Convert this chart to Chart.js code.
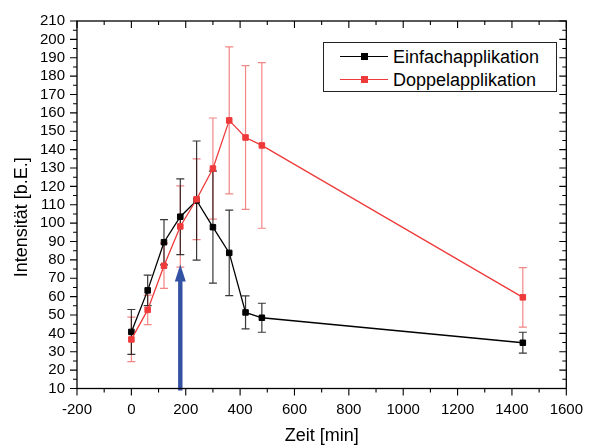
<!DOCTYPE html>
<html>
<head>
<meta charset="utf-8">
<script src="https://cdn.jsdelivr.net/npm/chart.js@4"></script>
<style>
  html, body { margin: 0; padding: 0; background: #fff; }
  #wrap { position: relative; width: 595px; height: 447px; }
  #legend {
    position: absolute; left: 323px; top: 42px; width: 232px; height: 48px;
    border: 1px solid #222; background: #fff;
    font-family: "Liberation Sans", Arial, sans-serif; font-size: 18px; color: #000;
  }
  .row { position: absolute; left: 0; height: 22px; line-height: 22px; width: 100%; }
  .sample { position: absolute; left: 16px; top: 10px; width: 48px; height: 1.4px; }
  .mark { position: absolute; left: 21px; top: -3px; width: 7px; height: 7px; }
  .label { position: absolute; left: 69px; top: 0; white-space: nowrap; }
</style>
</head>
<body>
<div id="wrap">
  <canvas id="chart" width="595" height="447"></canvas>
  <div id="legend"></div>
</div>
<script>
"use strict";

// time points [min]
const TIMES = [0, 60, 120, 180, 240, 300, 360, 420, 480, 1440];

// Einfachapplikation: mean and error
const EINFACH     = [40.8, 63.4, 89.6, 103.5, 112.3, 97.8, 83.8, 51.4, 48.5, 34.9];
const EINFACH_ERR = [12.2,  8.3, 12.3,  20.6,  32.4, 30.5, 23.3,  9.0,  7.9,  5.7];

// Doppelapplikation: mean and error
const DOPPEL     = [36.7, 52.8, 76.8, 98.2, 113.0, 129.7, 155.9, 146.6, 142.3, 59.6];
const DOPPEL_ERR = [12.1,  8.0, 12.3, 22.1,  22.0,  27.5,  40.0,  39.1,  45.1, 16.2];

const SERIES_NAMES = ["Einfachapplikation", "Doppelapplikation"];

// axes
const X_MIN = -200, X_MAX = 1600, X_STEP = 200;
const Y_MIN = 10,   Y_MAX = 210,  Y_STEP = 10;

// application marker arrow (x, from, to)
const ARROW_X = 180, ARROW_FROM = 10, ARROW_TO = 77.5;

const COLORS = {
  black:    "#000000",
  blackErr: "rgba(0, 0, 0, 0.78)",
  red:      "#ee3a3a",
  redErr:   "rgba(236, 60, 60, 0.62)",
  arrow:    "#3452a4",
};

Chart.defaults.font.family = '"Liberation Sans", Arial, sans-serif';
Chart.defaults.color = "#000";

function points(values) {
  return TIMES.map((t, i) => ({ x: t, y: values[i] }));
}

function ds(label, values, errors, color, errColor, order) {
  return {
    label, data: points(values), errors, errColor, order,
    borderColor: color, backgroundColor: color,
    borderWidth: 1.3, tension: 0,
    pointStyle: "rect", pointRadius: 3.9, pointBorderWidth: 1,
    pointBorderColor: color, pointBackgroundColor: color,
  };
}

const errorBars = {
  id: "errorBars",
  beforeDatasetsDraw(chart) {
    const { ctx, scales: { x, y } } = chart;
    ctx.save();
    chart.data.datasets.slice().reverse().forEach(d => {
      ctx.strokeStyle = d.errColor;
      ctx.lineWidth = 1.2;
      d.data.forEach((p, i) => {
        const px = x.getPixelForValue(p.x);
        const top = y.getPixelForValue(p.y + d.errors[i]);
        const bot = y.getPixelForValue(p.y - d.errors[i]);
        ctx.beginPath();
        ctx.moveTo(px, top); ctx.lineTo(px, bot);
        ctx.moveTo(px - 4, top); ctx.lineTo(px + 4, top);
        ctx.moveTo(px - 4, bot); ctx.lineTo(px + 4, bot);
        ctx.stroke();
      });
    });
    ctx.restore();
  },
};

const frame = {
  id: "frame",
  afterDatasetsDraw(chart) {
    const { ctx, chartArea: a, scales: { x, y } } = chart;
    ctx.save();

    // arrow
    const ax = x.getPixelForValue(ARROW_X);
    const ay0 = y.getPixelForValue(ARROW_FROM) + 2;
    const ay1 = y.getPixelForValue(ARROW_TO);
    ctx.fillStyle = COLORS.arrow;
    ctx.fillRect(ax - 2.2, ay1 + 14, 4.4, ay0 - ay1 - 14);
    ctx.beginPath();
    ctx.moveTo(ax, ay1);
    ctx.lineTo(ax - 5.5, ay1 + 17);
    ctx.lineTo(ax + 5.5, ay1 + 17);
    ctx.closePath();
    ctx.fill();

    // box
    ctx.strokeStyle = "#000";
    ctx.lineWidth = 1.3;
    ctx.strokeRect(a.left, a.top, a.right - a.left, a.bottom - a.top);

    // ticks: out on left/bottom, in on top/right
    ctx.lineWidth = 1.1;
    ctx.beginPath();
    for (let v = X_MIN; v <= X_MAX; v += X_STEP / 2) {
      const px = x.getPixelForValue(v);
      const len = (v - X_MIN) % X_STEP === 0 ? 7 : 4;
      ctx.moveTo(px, a.bottom); ctx.lineTo(px, a.bottom + len);
      ctx.moveTo(px, a.top);    ctx.lineTo(px, a.top + len);
    }
    for (let v = Y_MIN; v <= Y_MAX; v += Y_STEP / 2) {
      const py = y.getPixelForValue(v);
      const len = (v - Y_MIN) % Y_STEP === 0 ? 7 : 4;
      ctx.moveTo(a.left, py);  ctx.lineTo(a.left - len, py);
      ctx.moveTo(a.right, py); ctx.lineTo(a.right - len, py);
    }
    ctx.stroke();
    ctx.restore();
  },
};

const chart = new Chart(document.getElementById("chart"), {
  type: "line",
  data: {
    datasets: [
      ds(SERIES_NAMES[0], EINFACH, EINFACH_ERR, COLORS.black, COLORS.blackErr, 2),
      ds(SERIES_NAMES[1], DOPPEL,  DOPPEL_ERR,  COLORS.red,   COLORS.redErr,   1),
    ],
  },
  options: {
    responsive: false,
    animation: false,
    layout: { padding: { left: 0, top: 18, right: 18.5, bottom: 0 } },
    plugins: { legend: { display: false }, tooltip: { enabled: false } },
    scales: {
      x: {
        type: "linear", min: X_MIN, max: X_MAX,
        ticks: { stepSize: X_STEP, padding: 12, maxRotation: 0, autoSkip: false,
                 font: { size: 15 }, color: "#000", callback: v => String(v) },
        grid: { display: false, drawTicks: false },
        border: { display: false },
        title: { display: true, text: "Zeit [min]", color: "#000",
                 font: { size: 18 }, padding: { top: 0, bottom: 0 } },
        afterFit(s) { s.height = 58.5; },
      },
      y: {
        type: "linear", min: Y_MIN, max: Y_MAX,
        ticks: { stepSize: Y_STEP, padding: 12, autoSkip: false,
                 font: { size: 15 }, color: "#000", callback: v => String(v) },
        grid: { display: false, drawTicks: false },
        border: { display: false },
        title: { display: true, text: "Intensität [b.E.]" + "\u00a0".repeat(5), color: "#000",
                 font: { size: 18 }, padding: { top: 11, bottom: 0 } },
        afterFit(s) { s.width = 77; },
      },
    },
  },
  plugins: [errorBars, frame],
});

// legend box
const legend = document.getElementById("legend");
chart.data.datasets.forEach((d, i) => {
  const row = document.createElement("div");
  row.className = "row";
  row.style.top = (3 + i * 22.5) + "px";
  row.innerHTML =
    '<div class="sample" style="background:' + d.borderColor + '">' +
    '<div class="mark" style="background:' + d.borderColor + '"></div></div>' +
    '<span class="label"></span>';
  row.querySelector(".label").textContent = d.label;
  legend.appendChild(row);
});
</script>
</body>
</html>
